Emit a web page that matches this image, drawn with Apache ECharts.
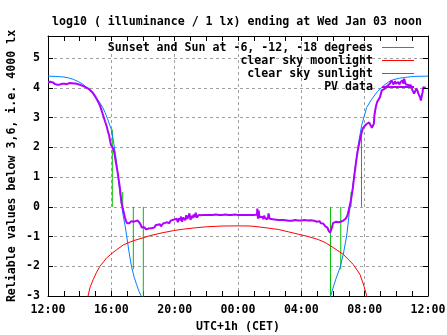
<!DOCTYPE html>
<html><head><meta charset="utf-8">
<script src="https://cdn.jsdelivr.net/npm/echarts@6/dist/echarts.min.js"></script>
<style>html,body{margin:0;padding:0;background:#fff}#c{width:447px;height:335px}</style>
</head><body><div id="c"></div>
<script>
// hours after Tue 12:00
const xTickLabels = ['12:00','16:00','20:00','00:00','04:00','08:00','12:00'];
const yTickValues = [-3,-2,-1,0,1,2,3,4,5];

const twilightHours = [4.06, 4.72, 5.39, 6.02, 17.84, 18.49, 19.14, 19.80];
const twilightValues = [2.6, 0.5, -2.1, -3.1, -3.1, -2.1, 0.5, 2.6];

const moonHours = [2.45,2.53,2.65,2.85,3.07,3.28,3.49,3.7,3.96,4.34,4.76,5.39,6.02,6.44,7.07,7.91,8.55,9.39,10.02,11,12,12.76,13.07,13.7,14.55,15.18,15.81,16.44,17.07,17.5,18.02,18.65,19.28,19.7,19.96,20.13,20.2];
const moonValues = [-3.15,-3.0,-2.72,-2.45,-2.2,-2.0,-1.86,-1.72,-1.6,-1.44,-1.28,-1.14,-1.04,-0.97,-0.89,-0.8,-0.75,-0.7,-0.67,-0.645,-0.64,-0.645,-0.66,-0.7,-0.76,-0.84,-0.92,-1.0,-1.1,-1.2,-1.37,-1.6,-1.94,-2.27,-2.67,-3.0,-3.2];

const sunEveHours = [0,0.5,1.0,1.3,1.6,1.9,2.2,2.5,2.8,3.03,3.25,3.45,3.6,3.75,3.9,4.0,4.13,4.25,4.34,4.42,4.5,4.58,4.65,4.75,4.86,4.96,5.07,5.18,5.29,5.45,5.6,5.75,5.9,6.1];
const sunEveValues = [4.40,4.39,4.37,4.34,4.29,4.22,4.13,3.99,3.82,3.69,3.52,3.35,3.18,2.98,2.75,2.6,2.23,1.8,1.44,1.05,0.65,0.3,0.05,-0.3,-0.6,-0.95,-1.35,-1.72,-2.05,-2.38,-2.62,-2.85,-3.02,-3.3];
const sunMornHours = [17.7,17.85,18.02,18.2,18.44,18.65,18.87,19.03,19.18,19.39,19.6,19.81,20.0,20.13,20.44,20.8,21.2,21.5,21.8,22.2,22.6,23.1,24];
const sunMornValues = [-3.3,-3.0,-2.7,-2.4,-2.05,-1.6,-0.95,-0.2,0.4,1.3,2.1,2.75,3.1,3.35,3.62,3.88,4.08,4.2,4.28,4.33,4.36,4.39,4.40];

const pvHours = [0.00,0.08,0.15,0.22,0.30,0.38,0.45,0.52,0.60,0.68,0.75,0.82,0.90,0.98,1.05,1.12,1.20,1.28,1.36,1.44,1.52,1.60,1.68,1.76,1.84,1.92,2.00,2.10,2.20,2.30,2.40,2.50,2.60,2.70,2.80,2.90,3.00,3.10,3.20,3.30,3.40,3.50,3.60,3.70,3.78,3.86,3.92,3.98,4.05,4.12,4.18,4.25,4.32,4.40,4.47,4.53,4.60,4.65,4.72,4.80,4.86,4.93,5.00,5.07,5.13,5.20,5.27,5.33,5.40,5.46,5.53,5.60,5.66,5.73,5.80,5.87,5.93,6.00,6.07,6.13,6.20,6.27,6.33,6.40,6.47,6.53,6.60,6.67,6.73,6.80,6.87,6.93,7.00,7.07,7.13,7.20,7.27,7.33,7.40,7.47,7.53,7.60,7.67,7.73,7.80,7.87,7.93,8.00,8.07,8.13,8.20,8.27,8.33,8.40,8.47,8.53,8.60,8.67,8.73,8.80,8.87,8.93,9.00,9.07,9.13,9.20,9.27,9.33,9.40,9.47,9.53,9.60,9.67,9.73,9.80,9.90,10.0,10.2,10.4,10.6,10.8,11.0,11.2,11.4,11.6,11.8,11.95,11.98,12.0,12.3,12.6,12.9,13.05,13.15,13.20,13.22,13.26,13.30,13.36,13.42,13.48,13.55,13.60,13.65,13.72,13.78,13.85,13.90,13.93,14.00,14.10,14.20,14.30,14.40,14.50,14.60,14.70,14.80,14.90,15.00,15.10,15.20,15.30,15.40,15.50,15.60,15.70,15.80,15.90,16.00,16.10,16.20,16.30,16.40,16.50,16.60,16.70,16.80,16.90,17.00,17.08,17.15,17.23,17.30,17.38,17.45,17.52,17.58,17.65,17.72,17.78,17.82,17.88,17.93,18.00,18.05,18.12,18.20,18.28,18.35,18.42,18.50,18.58,18.65,18.72,18.80,18.86,18.92,18.98,19.05,19.12,19.18,19.24,19.30,19.36,19.42,19.48,19.55,19.62,19.70,19.76,19.82,19.90,20.00,20.10,20.20,20.28,20.35,20.40,20.46,20.52,20.58,20.62,20.70,20.78,20.85,20.97,21.08,21.18,21.28,21.39,21.50,21.60,21.70,21.76,21.81,21.86,21.92,21.98,22.05,22.12,22.20,22.27,22.34,22.40,22.44,22.50,22.55,22.60,22.65,22.70,22.76,22.82,22.86,22.92,22.97,23.02,23.07,23.12,23.18,23.23,23.28,23.34,23.39,23.45,23.50,23.55,23.60,23.66,23.70,23.75,23.80,23.86,23.92,24.0];
const pvValues = [4.20,4.19,4.21,4.18,4.19,4.16,4.13,4.12,4.11,4.13,4.12,4.15,4.14,4.16,4.14,4.15,4.13,4.16,4.17,4.15,4.16,4.14,4.15,4.13,4.14,4.12,4.11,4.09,4.07,4.05,4.02,3.99,3.96,3.92,3.86,3.80,3.70,3.60,3.50,3.38,3.22,3.05,2.88,2.72,2.55,2.40,2.22,2.08,2.04,1.96,1.85,1.62,1.40,1.15,0.90,0.68,0.35,0.12,-0.05,-0.22,-0.36,-0.48,-0.55,-0.58,-0.55,-0.50,-0.48,-0.46,-0.50,-0.45,-0.48,-0.42,-0.46,-0.52,-0.55,-0.62,-0.70,-0.72,-0.68,-0.74,-0.76,-0.70,-0.73,-0.68,-0.72,-0.66,-0.71,-0.65,-0.69,-0.62,-0.66,-0.60,-0.64,-0.58,-0.66,-0.60,-0.56,-0.61,-0.54,-0.58,-0.52,-0.50,-0.55,-0.47,-0.50,-0.44,-0.49,-0.42,-0.46,-0.40,-0.52,-0.38,-0.45,-0.33,-0.50,-0.36,-0.30,-0.45,-0.28,-0.40,-0.32,-0.22,-0.44,-0.30,-0.38,-0.26,-0.34,-0.20,-0.36,-0.30,-0.27,-0.33,-0.28,-0.31,-0.27,-0.28,-0.27,-0.27,-0.27,-0.26,-0.27,-0.27,-0.26,-0.27,-0.27,-0.26,-0.27,-0.22,-0.27,-0.27,-0.27,-0.27,-0.27,-0.28,-0.26,-0.06,-0.40,-0.12,-0.35,-0.30,-0.38,-0.33,-0.42,-0.30,-0.38,-0.36,-0.42,-0.33,-0.22,-0.40,-0.36,-0.42,-0.44,-0.43,-0.45,-0.44,-0.46,-0.44,-0.47,-0.45,-0.46,-0.47,-0.45,-0.47,-0.46,-0.44,-0.47,-0.46,-0.48,-0.46,-0.47,-0.44,-0.42,-0.46,-0.50,-0.45,-0.44,-0.47,-0.45,-0.50,-0.52,-0.48,-0.55,-0.58,-0.56,-0.62,-0.66,-0.72,-0.70,-0.80,-0.84,-0.87,-0.82,-0.70,-0.55,-0.52,-0.58,-0.50,-0.55,-0.52,-0.56,-0.50,-0.48,-0.46,-0.44,-0.40,-0.36,-0.28,-0.14,0.02,0.20,0.38,0.58,0.85,1.10,1.35,1.60,1.85,2.05,2.25,2.40,2.52,2.66,2.72,2.78,2.80,2.84,2.88,2.82,2.66,2.72,2.80,3.10,3.35,3.52,3.58,3.70,3.92,3.98,3.98,4.05,4.10,4.15,4.26,4.20,4.12,4.18,4.23,4.14,4.17,4.20,4.12,4.20,4.24,4.26,4.14,4.31,4.20,4.12,4.18,4.15,4.10,4.15,4.12,4.09,4.00,3.92,3.86,3.81,3.88,3.92,3.98,3.90,3.81,3.75,3.69,3.58,3.72,3.86,4.03,4.00,4.03,4.00];

const fontFam = '"DejaVu Sans Mono", "Liberation Mono", monospace';
const txt = {fontFamily: fontFam, fontWeight: 'bold', fontSize: 11.6, color: '#000'};

function pairs(hs, vs) { return hs.map((h, i) => [h, vs[i]]); }
function impulses(hs, vs) {
  const out = [];
  hs.forEach((h, i) => { out.push([h, 0], [h, vs[i]], [h, '-']); });
  return out;
}
const sunData = pairs(sunEveHours, sunEveValues).concat([[12, '-']], pairs(sunMornHours, sunMornValues));

const GREEN = '#00c000', RED = '#ff0000', BLUE = '#0080ff', PURPLE = '#b000ff';

const legendItems = [
  ['Sunset and Sun at -6, -12, -18 degrees', GREEN],
  ['clear sky moonlight', RED],
  ['clear sky sunlight', BLUE],
  ['PV data', PURPLE]
];
const legendRowY = [48, 61, 74, 87];
const legendGraphics = [];
legendItems.forEach((it, i) => {
  const y = legendRowY[i];
  legendGraphics.push({type: 'text', id: 'lt' + i, x: 373, y: y, z: 10,
    style: {text: it[0], font: 'bold 11.6px ' + fontFam, fill: '#000', align: 'right', verticalAlign: 'middle'}});
  legendGraphics.push({type: 'rect', id: 'll' + i, z: 11, shape: {x: 382, y: y - 1, width: 32, height: i === 3 ? 2 : 1},
    style: {fill: it[1]}});
});

const chart = echarts.init(document.getElementById('c'), null, {renderer: 'canvas'});
chart.setOption({
  animation: false,
  backgroundColor: '#fff',
  title: {text: 'log10 ( illuminance / 1 lx) ending at Wed Jan 03 noon', left: 232, top: 11, textAlign: 'center',
    textStyle: Object.assign({}, txt)},
  grid: {left: 48, right: 19, top: 36, bottom: 39, containLabel: false, outerBoundsMode: 'none'},
  graphic: legendGraphics,
  xAxis: [{
    type: 'value', min: 0, max: 24, interval: 4, position: 'bottom',
    name: 'UTC+1h (CET)', nameLocation: 'middle', nameGap: 25, nameMoveOverlap: false, nameTextStyle: Object.assign({}, txt),
    axisLine: {show: true, onZero: false, lineStyle: {color: '#000', width: 1}},
    axisTick: {show: true, inside: true, length: 5, lineStyle: {color: '#000'}},
    minorTick: {show: true, splitNumber: 4, length: 5, lineStyle: {color: '#000'}},
    axisLabel: Object.assign({margin: 8, formatter: v => xTickLabels[Math.round(v / 4)] || ''}, txt),
    splitLine: {show: true, showMinLine: false, showMaxLine: false, lineStyle: {color: '#a0a0a0', type: [3, 3], width: 1}}
  }, {
    type: 'value', min: 0, max: 24, interval: 4, position: 'top', z: 3,
    axisLine: {show: true, onZero: false, lineStyle: {color: '#000', width: 1}},
    axisTick: {show: true, inside: true, length: 5, lineStyle: {color: '#000'}},
    minorTick: {show: true, splitNumber: 4, length: 5, lineStyle: {color: '#000'}},
    axisLabel: {show: false}, splitLine: {show: false}
  }],
  yAxis: [{
    type: 'value', min: -3, max: 5.75, interval: 1, position: 'left',
    name: 'Reliable values below 3,6, i.e. 4000 lx', nameLocation: 'middle', nameGap: 30, nameRotate: 90,
    nameMoveOverlap: false, nameTextStyle: Object.assign({}, txt),
    axisLine: {show: true, onZero: false, lineStyle: {color: '#000', width: 1}},
    axisTick: {show: true, inside: true, length: 5, lineStyle: {color: '#000'}},
    axisLabel: Object.assign({margin: 8, formatter: v => (yTickValues.indexOf(v) >= 0 ? String(v) : '')}, txt),
    splitLine: {show: true, showMinLine: false, showMaxLine: false, lineStyle: {color: '#a0a0a0', type: [3, 3], width: 1}}
  }, {
    type: 'value', min: -3, max: 5.75, interval: 1, position: 'right', z: 3,
    axisLine: {show: true, onZero: false, lineStyle: {color: '#000', width: 1}},
    axisTick: {show: true, inside: true, length: 5, lineStyle: {color: '#000'}},
    axisLabel: {show: false}, splitLine: {show: false}
  }],
  series: [
    {name: 'Sunset and Sun at -6, -12, -18 degrees', type: 'line', showSymbol: false, symbol: 'none',
      data: impulses(twilightHours, twilightValues), connectNulls: false, clip: true,
      lineStyle: {color: GREEN, width: 1}, z: 2},
    {name: 'clear sky moonlight', type: 'line', showSymbol: false, symbol: 'none', clip: true,
      data: pairs(moonHours, moonValues), lineStyle: {color: RED, width: 1}, z: 2},
    {name: 'clear sky sunlight', type: 'line', showSymbol: false, symbol: 'none', clip: true,
      data: sunData, connectNulls: false, lineStyle: {color: BLUE, width: 1}, z: 2},
    {name: 'PV data', type: 'line', showSymbol: false, symbol: 'none', clip: true,
      data: pairs(pvHours, pvValues), lineStyle: {color: PURPLE, width: 2}, z: 2}
  ]
});
</script>
</body></html>
